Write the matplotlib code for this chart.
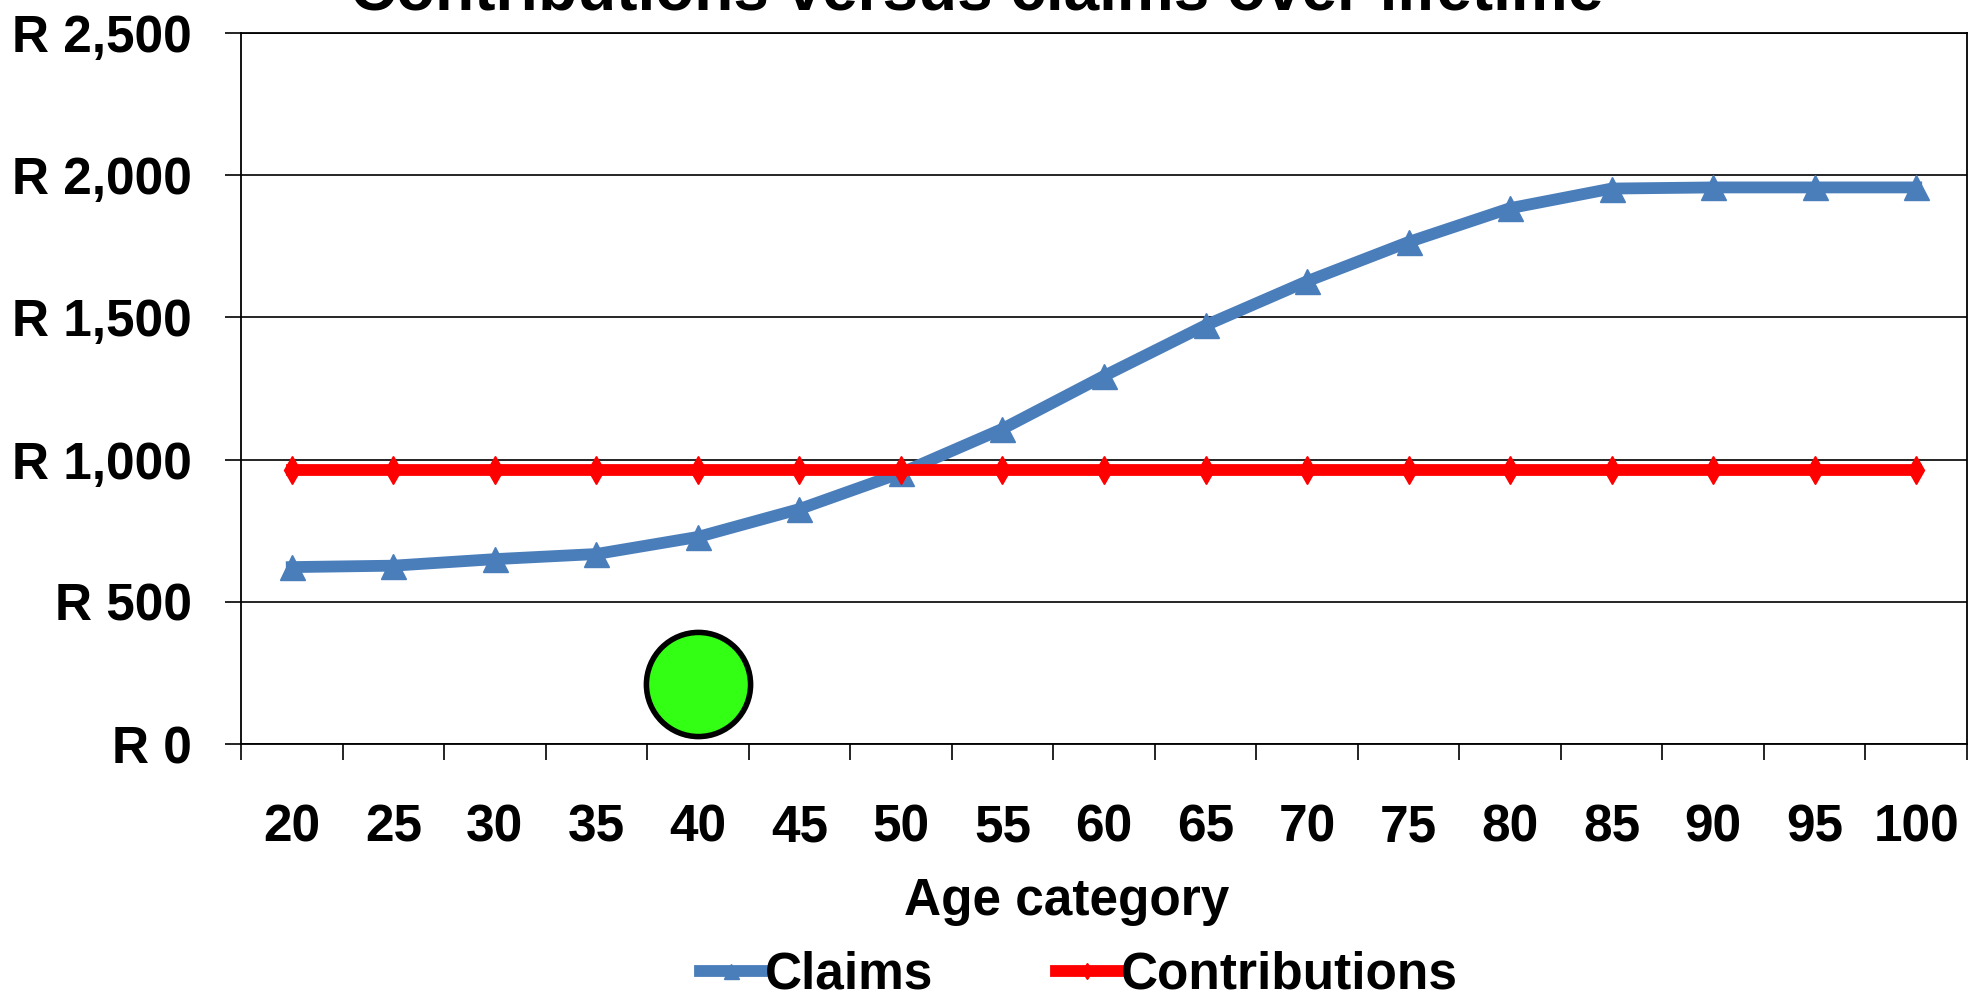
import matplotlib.pyplot as plt
from matplotlib.ticker import FixedLocator, FuncFormatter

plt.rcParams["font.family"] = ["Liberation Sans", "DejaVu Sans"]
plt.rcParams["font.weight"] = "bold"

ages = ["20", "25", "30", "35", "40", "45", "50", "55", "60",
        "65", "70", "75", "80", "85", "90", "95", "100"]
claims = [622, 627, 650, 668, 728, 826, 953, 1108, 1294,
          1472, 1627, 1765, 1884, 1953, 1957, 1957, 1957]
contributions = [963, 963, 963, 963, 963, 963, 963, 963, 963,
                 963, 963, 963, 963, 963, 963, 963, 963]
yticks = [0, 500, 1000, 1500, 2000, 2500]

# green marker placed on the 40 column
highlight_age = "40"
highlight_value = 210

BLUE = "#4A7EBB"
RED = "#FF0000"
GREEN = "#33FF14"
FS = 37

fig = plt.figure(figsize=(19.79, 9.98), dpi=100)
ax = fig.add_axes([241 / 1979, 1 - 744 / 998, 1726 / 1979, 711 / 998])

x = list(range(len(ages)))
claims_line, = ax.plot(x, claims, color=BLUE, lw=8.5, marker="^", ms=18,
                       label="Claims", zorder=3)
contrib_line, = ax.plot(x, contributions, color=RED, lw=8.5, marker="d", ms=14,
                        label="Contributions", zorder=3)
ax.plot([ages.index(highlight_age)], [highlight_value], "o", ms=75,
        mfc=GREEN, mec="black", mew=4, zorder=4, clip_on=False)

ax.set_xlim(-0.5, len(ages) - 0.5)
ax.set_ylim(0, 2500)

ax.set_xticks(x)
ax.set_xticklabels(ages)
ax.xaxis.set_minor_locator(FixedLocator([i - 0.5 for i in range(len(ages) + 1)]))
ax.tick_params(axis="x", which="major", length=0, pad=43, labelsize=FS)
ax.tick_params(axis="x", which="minor", length=11.5, width=1.2, direction="out")

ax.set_yticks(yticks)
ax.yaxis.set_major_formatter(FuncFormatter(lambda v, _: f"R {v:,.0f}"))
ax.tick_params(axis="y", length=11.5, width=1.2, direction="out", pad=24,
               labelsize=FS)

ax.yaxis.grid(True, color="black", lw=1.2)
ax.set_axisbelow(True)
for sp in ax.spines.values():
    sp.set_color("black")
    sp.set_linewidth(1.3)

ax.set_xlabel("Age category", fontsize=FS, fontweight="bold", va="top")
ax.xaxis.set_label_coords(826 / 1726, -133 / 711)

fig.text(977 / 1979, 1 - 10 / 998, "Contributions versus claims over lifetime",
         ha="center", va="baseline", fontsize=46, fontweight="bold")

fig.legend(handles=[claims_line, contrib_line], loc="center",
           bbox_to_anchor=(1079 / 1979, 1 - 975 / 998), ncol=2, frameon=False,
           fontsize=FS, handlelength=1.2, handletextpad=0.05, columnspacing=2.4,
           borderpad=0, borderaxespad=0, markerscale=0.6)

fig.savefig("out.png", dpi=100)
